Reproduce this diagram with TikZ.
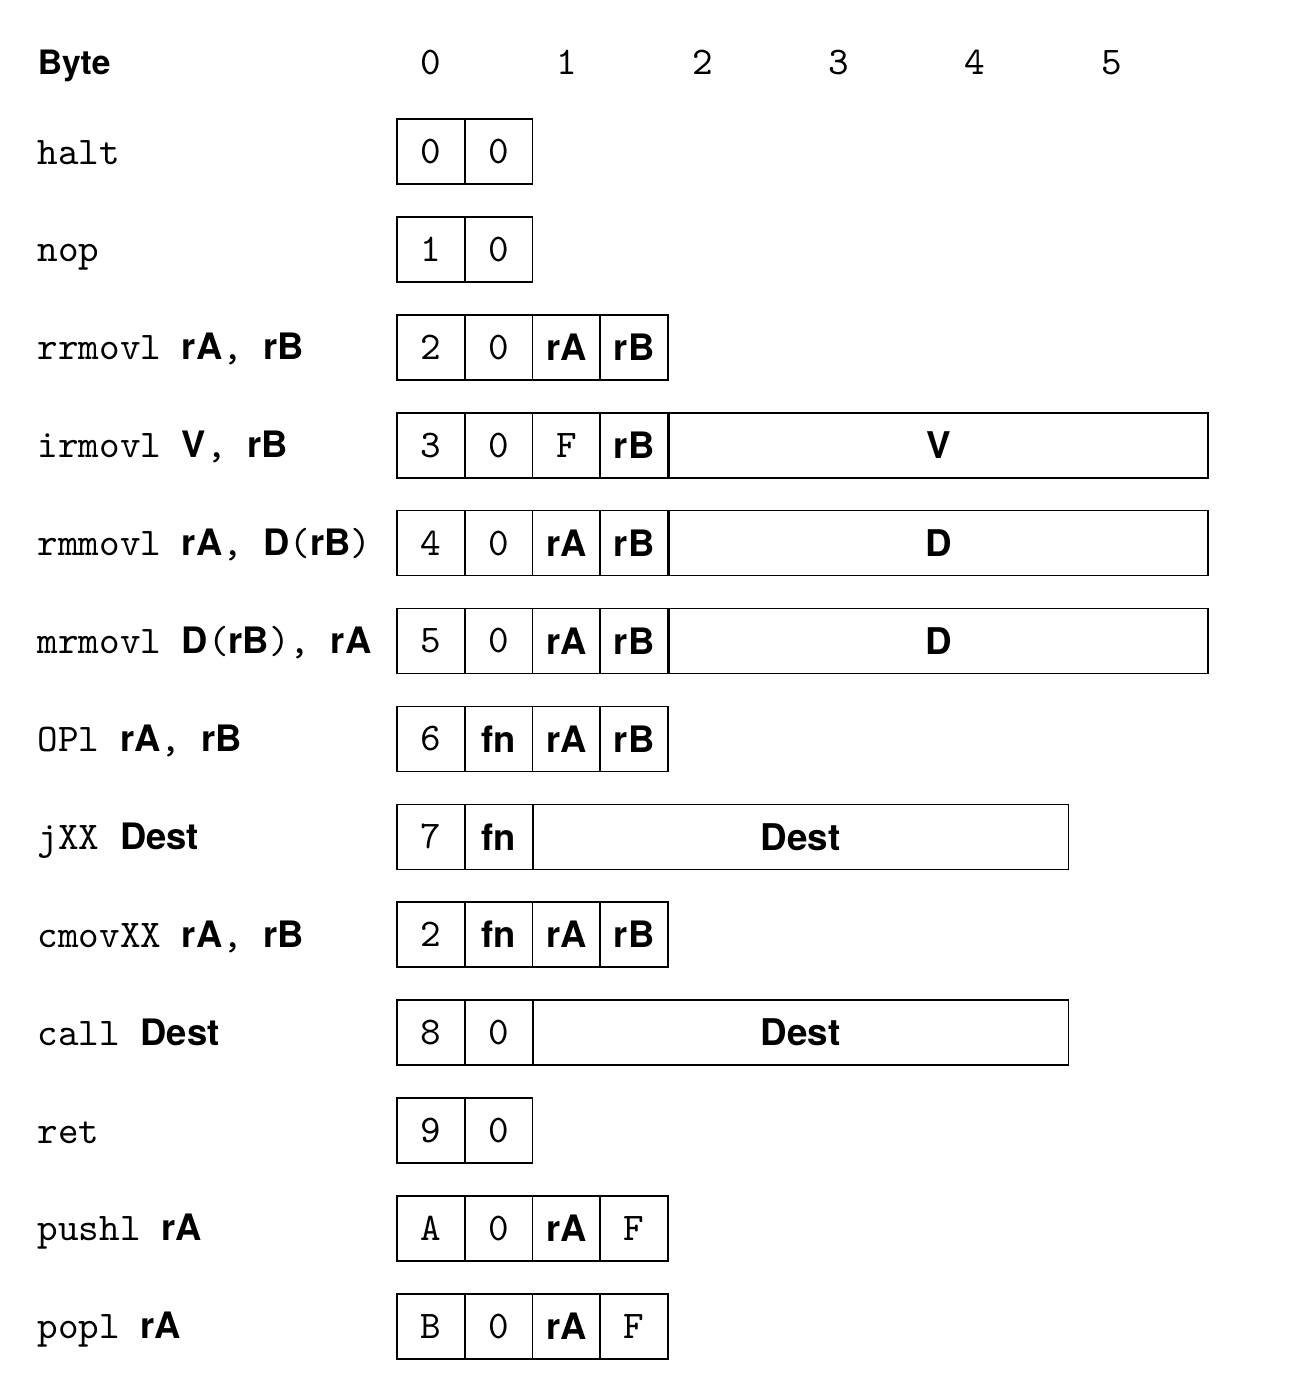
\documentclass[tikz,border=0pt]{standalone}
\usepackage{fontspec}
\setsansfont{TeX Gyre Heros}
\begin{document}
\begin{tikzpicture}[x=0.25pt,y=-0.25pt,
  every node/.style={font=\fontsize{9.8}{12}\selectfont},
  nib/.style={draw, line width=0.4pt, minimum width=16.94pt, minimum height=16.25pt, inner sep=0pt, font=\fontsize{9.8}{12}\selectfont\ttfamily},
  wide/.style={draw, line width=0.4pt, minimum height=16.25pt, inner sep=0pt, font=\fontsize{9.2}{12}\selectfont\sffamily\bfseries},
  lab/.style={anchor=base west, inner sep=0pt, font=\fontsize{9.8}{12}\selectfont\ttfamily},
  hdr/.style={anchor=base, inner sep=0pt, font=\fontsize{9.8}{12}\selectfont\ttfamily}]
\useasboundingbox (0,0) rectangle (1304,1394);
\newcommand\bs[1]{{\fontsize{9.1}{12}\selectfont\sffamily\bfseries #1}}
% nibble cell: name, index, row, text
\newcommand\nibcell[4]{\node[nib] (#1) at ({430.875+67.75*#2},{151.5+97.9*#3}) {#4};}
\newcommand\rowlab[3]{\node[lab] (#1) at (37,{164+97.9*#2}) {#3};}
% header
\node[inner sep=0pt, anchor=base west, font=\fontsize{8.4}{12}\selectfont\sffamily\bfseries] (byte) at (37,74.5) {Byte};
\foreach \i in {0,...,5} {\node[hdr] (h\i) at ({430.875+136.1*\i},74.5) {\i};}
% halt
\rowlab{l0}{0}{halt}
\nibcell{a0}{0}{0}{0}\nibcell{b0}{1}{0}{0}
% nop
\rowlab{l1}{1}{nop}
\nibcell{a1}{0}{1}{1}\nibcell{b1}{1}{1}{0}
% rrmovl
\rowlab{l2}{2}{rrmovl \bs{rA}, \bs{rB}}
\nibcell{a2}{0}{2}{2}\nibcell{b2}{1}{2}{0}\nibcell{c2}{2}{2}{\bs{rA}}\nibcell{d2}{3}{2}{\bs{rB}}
% irmovl
\rowlab{l3}{3}{irmovl \bs{V}, \bs{rB}}
\nibcell{a3}{0}{3}{3}\nibcell{b3}{1}{3}{0}\nibcell{c3}{2}{3}{F}\nibcell{d3}{3}{3}{\bs{rB}}
\node[wide, minimum width=134.75pt, anchor=west] (e3) at (668,{151.5+97.9*3}) {V};
% rmmovl
\rowlab{l4}{4}{rmmovl \bs{rA}, \bs{D}(\bs{rB})}
\nibcell{a4}{0}{4}{4}\nibcell{b4}{1}{4}{0}\nibcell{c4}{2}{4}{\bs{rA}}\nibcell{d4}{3}{4}{\bs{rB}}
\node[wide, minimum width=134.75pt, anchor=west] (e4) at (668,{151.5+97.9*4}) {D};
% mrmovl
\rowlab{l5}{5}{mrmovl \bs{D}(\bs{rB}), \bs{rA}}
\nibcell{a5}{0}{5}{5}\nibcell{b5}{1}{5}{0}\nibcell{c5}{2}{5}{\bs{rA}}\nibcell{d5}{3}{5}{\bs{rB}}
\node[wide, minimum width=134.75pt, anchor=west] (e5) at (668,{151.5+97.9*5}) {D};
% OPl
\rowlab{l6}{6}{OPl \bs{rA}, \bs{rB}}
\nibcell{a6}{0}{6}{6}\nibcell{b6}{1}{6}{\bs{fn}}\nibcell{c6}{2}{6}{\bs{rA}}\nibcell{d6}{3}{6}{\bs{rB}}
% jXX
\rowlab{l7}{7}{jXX \bs{Dest}}
\nibcell{a7}{0}{7}{7}\nibcell{b7}{1}{7}{\bs{fn}}
\node[wide, minimum width=133.75pt, anchor=west] (e7) at (532.5,{151.5+97.9*7}) {Dest};
% cmovXX
\rowlab{l8}{8}{cmovXX \bs{rA}, \bs{rB}}
\nibcell{a8}{0}{8}{2}\nibcell{b8}{1}{8}{\bs{fn}}\nibcell{c8}{2}{8}{\bs{rA}}\nibcell{d8}{3}{8}{\bs{rB}}
% call
\rowlab{l9}{9}{call \bs{Dest}}
\nibcell{a9}{0}{9}{8}\nibcell{b9}{1}{9}{0}
\node[wide, minimum width=133.75pt, anchor=west] (e9) at (532.5,{151.5+97.9*9}) {Dest};
% ret
\rowlab{l10}{10}{ret}
\nibcell{a10}{0}{10}{9}\nibcell{b10}{1}{10}{0}
% pushl
\rowlab{l11}{11}{pushl \bs{rA}}
\nibcell{a11}{0}{11}{A}\nibcell{b11}{1}{11}{0}\nibcell{c11}{2}{11}{\bs{rA}}\nibcell{d11}{3}{11}{F}
% popl
\rowlab{l12}{12}{popl \bs{rA}}
\nibcell{a12}{0}{12}{B}\nibcell{b12}{1}{12}{0}\nibcell{c12}{2}{12}{\bs{rA}}\nibcell{d12}{3}{12}{F}
\end{tikzpicture}
\end{document}
